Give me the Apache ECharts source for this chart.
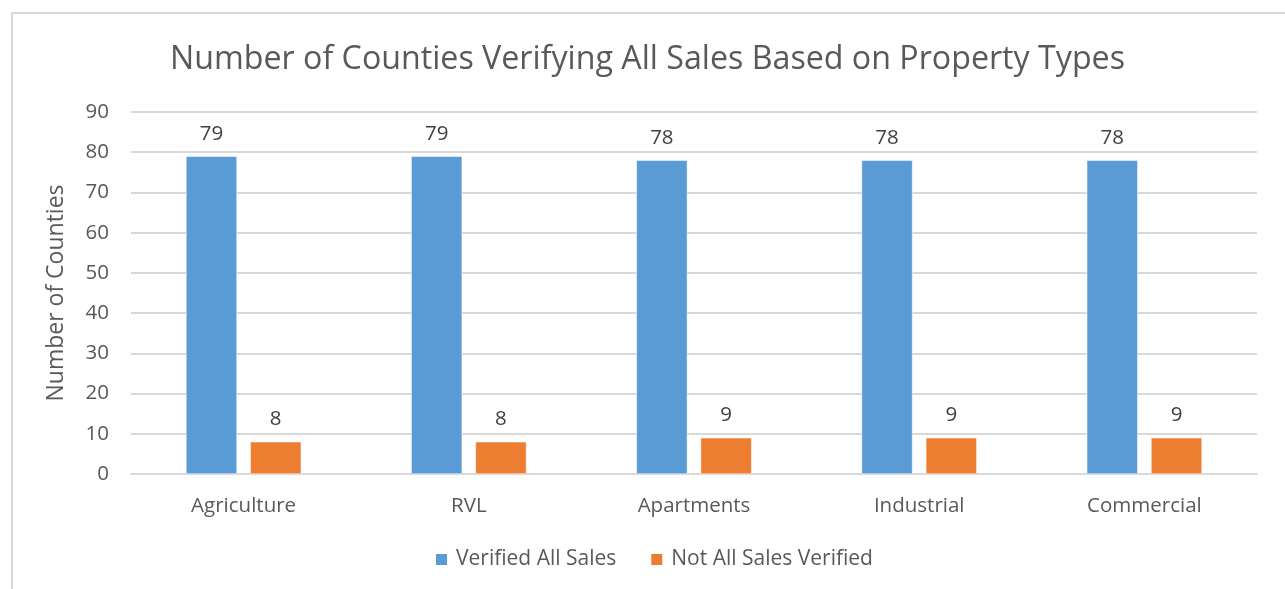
<!DOCTYPE html>
<html>
<head>
<meta charset="utf-8">
<script src="https://cdn.jsdelivr.net/npm/echarts@6/dist/echarts.min.js"></script>
<style>
  html, body { margin: 0; padding: 0; background: #fff; }
  #main { width: 1285px; height: 589px; }
  .frame { position: absolute; left: 11px; top: 12px; width: 1300px; height: 600px; border: 2px solid #d9d9d9; box-sizing: border-box; pointer-events: none; }
</style>
</head>
<body>
<div id="main"></div>
<div class="frame"></div>
<script>
// 数据
var categories = ['Agriculture', 'RVL', 'Apartments', 'Industrial', 'Commercial'];
var verifiedAll = [79, 79, 78, 78, 78];
var notAllVerified = [8, 8, 9, 9, 9];

var font = '"Open Sans", "Noto Sans", sans-serif';

var myChart = echarts.init(document.getElementById('main'));

var option = {
    animation: false,
    title: {
        text: 'Number of Counties Verifying All Sales Based on Property Types',
        left: 165,
        top: 39,
        textStyle: {
            fontFamily: font,
            fontSize: 32.2,
            fontWeight: 'normal',
            color: '#595959'
        }
    },
    legend: {
        bottom: 14,
        left: 429,
        itemWidth: 13,
        itemHeight: 13,
        itemGap: 33,
        icon: 'rect',
        textStyle: {
            fontFamily: font,
            fontSize: 21,
            color: '#595959',
            padding: [0, 0, 0, 3]
        },
        data: ['Verified All Sales', 'Not All Sales Verified']
    },
    grid: {
        left: 131,
        right: 28,
        top: 112,
        bottom: 115
    },
    xAxis: {
        type: 'category',
        data: categories,
        axisLine: { lineStyle: { color: '#d9d9d9', width: 2 } },
        axisTick: { show: false },
        axisLabel: {
            margin: 22,
            fontFamily: font,
            fontSize: 20.5,
            color: '#595959'
        }
    },
    yAxis: {
        type: 'value',
        min: 0,
        max: 90,
        interval: 10,
        name: 'Number of Counties',
        nameLocation: 'middle',
        nameGap: 63,
        nameTextStyle: {
            fontFamily: font,
            fontSize: 23,
            color: '#595959'
        },
        axisLine: { show: false },
        axisTick: { show: false },
        splitLine: { lineStyle: { color: '#d9d9d9', width: 2 } },
        axisLabel: {
            margin: 22,
            fontFamily: font,
            fontSize: 20.5,
            color: '#595959'
        }
    },
    series: [
        {
            name: 'Verified All Sales',
            type: 'bar',
            data: verifiedAll,
            barWidth: 51,
            barGap: '26%',
            itemStyle: { color: '#5b9bd5', borderColor: '#ffffff', borderWidth: 0.5 },
            label: {
                show: true,
                position: 'top',
                distance: 12,
                fontFamily: font,
                fontSize: 20.5,
                color: '#404040'
            }
        },
        {
            name: 'Not All Sales Verified',
            type: 'bar',
            data: notAllVerified,
            barWidth: 51,
            itemStyle: { color: '#ed7d31', borderColor: '#ffffff', borderWidth: 0.5 },
            label: {
                show: true,
                position: 'top',
                distance: 12,
                fontFamily: font,
                fontSize: 20.5,
                color: '#404040'
            }
        }
    ]
};

myChart.setOption(option);
</script>
</body>
</html>
